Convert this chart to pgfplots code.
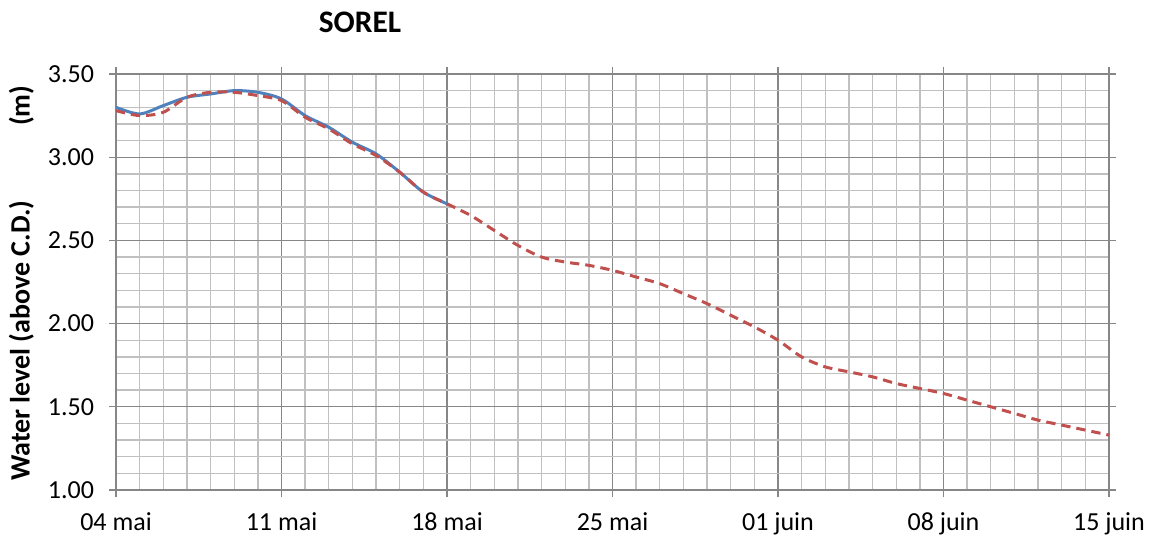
\documentclass[border=0pt]{standalone}
\usepackage{pgfplots}
\pgfplotsset{compat=1.18}
\usepackage{fontspec}
\setmainfont{Carlito}
\definecolor{majgrid}{HTML}{878787}
\definecolor{mingrid}{HTML}{C0C0C0}
\definecolor{obsblue}{HTML}{4F81BD}
\definecolor{predred}{HTML}{C0504D}
\begin{document}
\begin{tikzpicture}
\useasboundingbox (-87pt,-36.75pt) rectangle (774.75pt,367.5pt);
\begin{axis}[
  at={(0,0)}, anchor=south west,
  scale only axis, width=744.75pt, height=312pt,
  xmin=0, xmax=42, ymin=1, ymax=3.5,
  xtick={0,7,...,42},
  xticklabels={04 mai,11 mai,18 mai,25 mai,01 juin,08 juin,15 juin},
  minor xtick={0,1,...,42},
  ytick={1,1.5,...,3.5},
  minor ytick={1,1.1,...,3.5},
  grid=both,
  major grid style={color=majgrid, line width=1pt},
  minor grid style={color=mingrid, line width=1pt},
  axis line style={color=majgrid, line width=1pt},
  tick align=outside,
  major tick length=5pt,
  minor tick length=0pt,
  tick style={color=majgrid, line width=1pt},
  /pgf/number format/assume math mode=true,
  yticklabel style={/pgf/number format/fixed, /pgf/number format/fixed zerofill, /pgf/number format/precision=2, xshift=-8pt},
  ticklabel style={font=\fontsize{19.5pt}{23pt}\selectfont, text=black},
  xticklabel style={yshift=-8.5pt},
  clip=false,
]
\addplot[obsblue, line width=2.25pt, smooth, tension=0.5] coordinates {
(0,3.30) (1,3.26) (2,3.31) (3,3.36) (4,3.38) (5,3.40) (6,3.39) (7,3.35)
(8,3.25) (9,3.18) (10,3.09) (11,3.02) (12,2.91) (13,2.79) (14,2.72)
};
\addplot[predred, line width=2.25pt, dash pattern=on 7pt off 4.5pt, smooth, tension=0.5] coordinates {
(0,3.28) (1,3.25) (2,3.27) (3,3.36) (4,3.39) (5,3.39) (6,3.37) (7,3.34)
(8,3.24) (9,3.17) (10,3.08) (11,3.01) (12,2.91) (13,2.79) (14,2.72)
(15,2.65) (16,2.56) (17,2.47) (18,2.40) (19,2.37) (20,2.35) (21,2.32)
(22,2.28) (23,2.24) (24,2.18) (25,2.12) (26,2.05) (27,1.98) (28,1.90)
(29,1.80) (30,1.74) (31,1.71) (32,1.68) (33,1.64) (34,1.61) (35,1.58)
(36,1.54) (37,1.50) (38,1.46) (39,1.42) (40,1.39) (41,1.36) (42,1.33)
};
\node[font=\bfseries\fontsize{23.5pt}{28pt}\selectfont] at ([yshift=39pt]rel axis cs:0.2457,1) {SOREL};
\node[rotate=90, font=\bfseries\fontsize{21pt}{25pt}\selectfont] at ([xshift=-71pt,yshift=-1pt]rel axis cs:0,0.5) {Water level (above C.D.)\hspace{56pt}(m)};
\end{axis}
\end{tikzpicture}
\end{document}
